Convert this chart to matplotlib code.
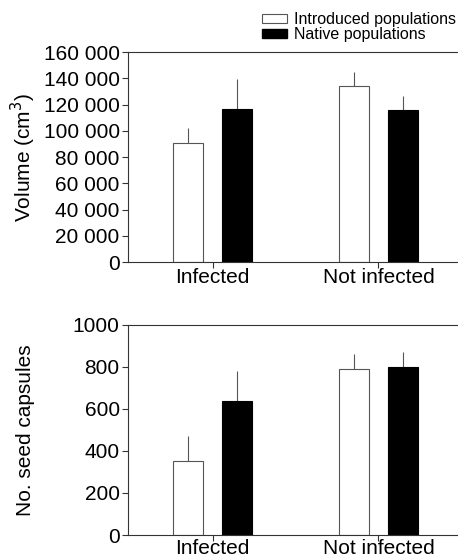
import numpy as np
import matplotlib.pyplot as plt
from matplotlib.patches import Patch
from matplotlib.ticker import FuncFormatter

plt.rcParams['font.family'] = ['Liberation Sans', 'DejaVu Sans']

groups = ['Infected', 'Not infected']
series = ['Introduced populations', 'Native populations']

# volume (cm3): mean and upper error
vol_intro = [90500, 134300]
vol_intro_err = [11800, 10700]
vol_native = [116600, 116000]
vol_native_err = [22800, 10200]

# seed capsules
cap_intro = [353, 788]
cap_intro_err = [116, 73]
cap_native = [636, 800]
cap_native_err = [142, 72]

fig = plt.figure(figsize=(4.58, 5.60), dpi=100)
ax1 = fig.add_axes([0.2795, 0.532, 0.7205, 0.375])
ax2 = fig.add_axes([0.2795, 0.0446, 0.7205, 0.3755])

x = np.arange(len(groups))
w = 0.18
off = 0.15
edge = '#555555'
fs = 15


def draw(ax, intro, intro_err, native, native_err, xpad):
    ax.bar(x - off, intro, w, color='white', edgecolor=edge, linewidth=0.8, zorder=2)
    ax.bar(x + off, native, w, color='black', edgecolor='black', linewidth=0.8, zorder=2)
    ax.errorbar(x - off, intro, yerr=[np.zeros(len(x)), intro_err], fmt='none',
                ecolor=edge, elinewidth=0.8, capsize=0, zorder=1)
    ax.errorbar(x + off, native, yerr=[np.zeros(len(x)), native_err], fmt='none',
                ecolor=edge, elinewidth=0.8, capsize=0, zorder=1)
    ax.set_xlim(-0.509, 1.479)
    ax.set_xticks(x)
    ax.set_xticklabels(groups)
    ax.spines['right'].set_visible(False)
    for s in ['left', 'bottom', 'top']:
        ax.spines[s].set_linewidth(0.8)
        ax.spines[s].set_color('#333333')
    ax.tick_params(axis='both', direction='out', length=4, width=0.8,
                   labelsize=fs, pad=2, color='#333333')
    ax.tick_params(axis='x', pad=xpad)


draw(ax1, vol_intro, vol_intro_err, vol_native, vol_native_err, 0.5)
ax1.set_ylim(0, 160000)
ax1.set_yticks(np.arange(0, 160001, 20000))
ax1.yaxis.set_major_formatter(FuncFormatter(lambda v, p: f"{int(v):,}".replace(',', ' ')))
ax1.set_ylabel('Volume (cm$^3$)', fontsize=fs)

draw(ax2, cap_intro, cap_intro_err, cap_native, cap_native_err, -1.2)
ax2.set_ylim(0, 1000)
ax2.set_yticks(np.arange(0, 1001, 200))
ax2.set_ylabel('No. seed capsules', fontsize=fs)

ax1.yaxis.set_label_coords(-0.272, 0.5)
ax2.yaxis.set_label_coords(-0.282, 0.5)

handles = [Patch(facecolor='white', edgecolor=edge, linewidth=0.8),
           Patch(facecolor='black', edgecolor='black')]
fig.legend(handles, series, loc='upper right', bbox_to_anchor=(1.0, 0.981),
           frameon=False, fontsize=11.5, handlelength=1.6, handleheight=0.4,
           handletextpad=0.45, labelspacing=0.0, borderaxespad=0.1,
           borderpad=0.0)

fig.savefig('out.png', dpi=100)
